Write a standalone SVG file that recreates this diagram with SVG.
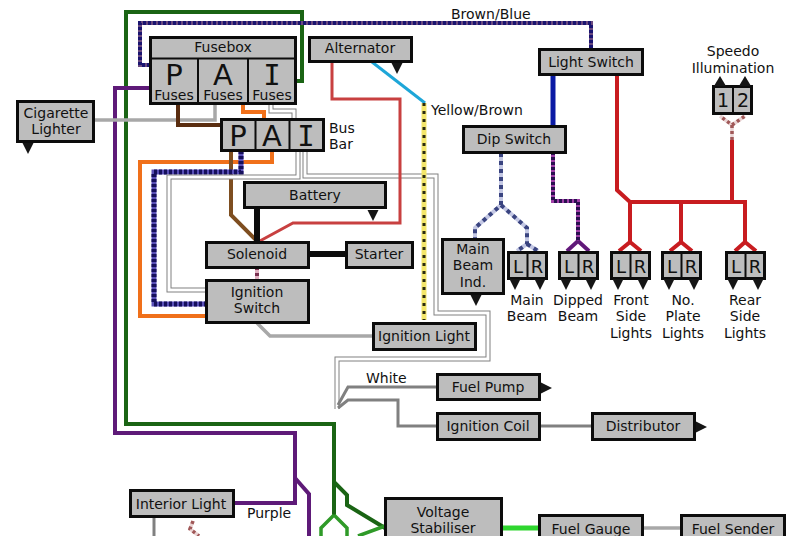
<svg xmlns="http://www.w3.org/2000/svg" width="800" height="536" viewBox="0 0 800 536">
<style>
text{font-family:"DejaVu Sans","Liberation Sans",sans-serif;font-size:14px;fill:#111;text-anchor:middle}
.l{text-anchor:start}
.big{font-size:29px}
.mid{font-size:21px}
.mono{font-family:"DejaVu Sans Mono","Liberation Mono",monospace}
.b{fill:#bdbdbd;stroke:#0c0c0c;stroke-width:3}
.d{stroke:#0c0c0c;stroke-width:2;fill:none}
.g{fill:#151515}
path{fill:none;stroke-linejoin:miter}
.green{stroke:#1a6414;stroke-width:4}
.lgreen{stroke:#2f9a28;stroke-width:3.5}
.purple{stroke:#5e1a78;stroke-width:4}
.bbase{stroke:#6a4a80;stroke-width:4}
.bdash{stroke:#1a1470;stroke-width:4;stroke-dasharray:3 2}
.nbase{stroke:#5a50b8;stroke-width:5}
.ndash{stroke:#16105c;stroke-width:5;stroke-dasharray:3 2}
.orange{stroke:#f0701a;stroke-width:4}
.rust{stroke:#c84040;stroke-width:3}
.red{stroke:#c81c20;stroke-width:4}
.brown{stroke:#5a2d10;stroke-width:4}
.lbrown{stroke:#7e4e20;stroke-width:4}
.grey{stroke:#a8a8a8;stroke-width:3.5}
.greyd{stroke:#808080;stroke-width:3}
.wo{stroke:#808080;stroke-width:5}
.wi{stroke:#fff;stroke-width:3}
.black{stroke:#0c0c0c;stroke-width:6}
.sky{stroke:#1ea6d8;stroke-width:3}
.ybase{stroke:#f4e66a;stroke-width:5}
.ydash{stroke:#2a2a10;stroke-width:3;stroke-dasharray:3 5}
.pbase{stroke:#a040a8;stroke-width:4}
.pdash{stroke:#2a1050;stroke-width:4;stroke-dasharray:3 2}
.lb{stroke:#c4c8e4;stroke-width:4}
.ldash{stroke:#3a4480;stroke-width:4;stroke-dasharray:4 4}
.pinkb{stroke:#e0b0c0;stroke-width:4}
.pinkd{stroke:#7a3050;stroke-width:4;stroke-dasharray:3 3}
.sb{stroke:#ead4d4;stroke-width:3.5}
.sd{stroke:#a05858;stroke-width:3.5;stroke-dasharray:3 3}
</style>
<defs>
<path id="gnd" d="M-5.500 0H5.500L0 11Z" style="fill:#151515;stroke:none"/>
<path id="gr" d="M0 -5.500V5.500L11 0Z" style="fill:#151515;stroke:none"/>
</defs>
<rect width="800" height="536" fill="#fff"/>
<g id="connectors">
<path class="green" d="M297 81H302V12H126V424H334V515"/>
<path class="green" d="M334 482L347 495V505L385 528"/>
<path class="lgreen" d="M334 515L321 528V536M334 515L347 528V536M358 536L385 526"/>
<path class="purple" d="M150 88H115V433H295V503H233"/>
<path class="purple" d="M295 478L309 494V536"/>
<path class="bbase" d="M150 65H140V23H591V49"/>
<path class="bdash" d="M150 65H140V23H591V49"/>
<path class="grey" d="M94 120H215V104"/>
<path class="brown" d="M178 104V125H221"/>
<path class="orange" d="M243 104V112H264V119"/>
<path class="orange" d="M272 151V162H140V316H206"/>
<path class="lbrown" d="M231 151V215L257 241"/>
<path class="nbase" d="M241 151V172H154V304H206"/>
<path class="ndash" d="M241 151V172H154V304H206"/>
<path class="wo" d="M271 105V111H294V119"/>
<path class="wi" d="M271 105V111H294V119"/>
<path class="wo" d="M298 151V177H169V290H206"/>
<path class="wi" d="M298 151V177H169V290H206"/>
<path class="wo" d="M305 151V176H436V313H488V359H337V409"/>
<path class="wi" d="M305 151V176H436V313H488V359H337V409"/>
<path class="rust" d="M332 62V99H400V223H293L258 242"/>
<path class="black" d="M257 208V242M309 254H346"/>
<path class="pinkb" d="M257 267V280"/>
<path class="pinkd" d="M257 267V280"/>
<path class="grey" d="M257 323L270 336H373"/>
<path class="sky" d="M372 62L425 103"/>
<path class="ybase" d="M424 103V320"/>
<path class="ydash" d="M424 103V320"/>
<path class="greyd" d="M437 387H348L338 405"/>
<path class="greyd" d="M437 426H398V400H348L338 408"/>
<path class="greyd" d="M540 426H592"/>
<path class="grey" d="M643 528H681"/>
<path d="M502 528H539" style="stroke:#2fd62f;stroke-width:5"/>
<path class="greyd" d="M154 517V536"/>
<path class="sb" d="M193 521L190 529L199 536"/>
<path class="sd" d="M193 521L190 529L199 536"/>
<path d="M553 75V126" style="stroke:#0a1aa4;stroke-width:5"/>
<path class="pbase" d="M553 152V201H578V241M578 241L567 251M578 241L589 251"/>
<path class="pdash" d="M553 152V201H578V241"/>
<path d="M578 241L567 251M578 241L589 251" style="stroke:#5e1a78;stroke-width:3.500"/>
<path class="red" d="M617 75V190L630 202H745V242L735 251M745 242L756 251"/>
<path class="red" d="M630 202V242L619 251M630 242L641 251M681 202V242L670 251M681 242L692 251M732 202V140"/>
<path class="sb" d="M732 140V125L720 116M732 125L745 116"/>
<path class="sd" d="M732 140V125L720 116M732 125L745 116"/>
<path class="lb" d="M501 153V205L475 228V239M501 205L527 228V244L517 251M527 244L538 251"/>
<path class="ldash" d="M501 153V205L475 228V239M501 205L527 228V244L517 251M527 244L538 251"/>
</g>
<g id="fusebox">
<rect class="b" x="150.500" y="37.500" width="145" height="66"/>
<path class="d" d="M150 58.500H296M198 58V104M248 58V104"/>
<text x="223" y="52">Fusebox</text>
<text class="big" x="174" y="85">P</text><text x="174" y="100">Fuses</text>
<text class="big" x="223" y="85">A</text><text x="223" y="100">Fuses</text>
<text class="big mono" x="272" y="85">I</text><text x="272" y="100">Fuses</text>
</g>
<g id="alternator"><rect class="b" x="309.500" y="37.500" width="102" height="24"/><text x="360" y="53">Alternator</text><use href="#gnd" x="397" y="63"/></g>
<g id="cigarette-lighter"><rect class="b" x="17.500" y="101.500" width="76" height="40"/><text x="56" y="118">Cigarette</text><text x="56" y="134">Lighter</text><use href="#gnd" x="28" y="143"/></g>
<g id="bus-bar">
<rect class="b" x="221.500" y="119.500" width="102" height="31"/>
<path class="d" d="M255.500 119V151M289.500 119V151"/>
<text class="big" x="238" y="146">P</text><text class="big" x="272" y="146">A</text><text class="big mono" x="306" y="146">I</text>
<text class="l" x="329" y="133">Bus</text><text class="l" x="329" y="149">Bar</text>
</g>
<g id="battery"><rect class="b" x="244.500" y="182.500" width="141" height="25"/><text x="315" y="200">Battery</text><use href="#gnd" x="373" y="210"/></g>
<g id="solenoid"><rect class="b" x="206.500" y="242.500" width="102" height="25"/><text x="257" y="259">Solenoid</text></g>
<g id="starter"><rect class="b" x="346.500" y="242.500" width="66" height="25"/><text x="379" y="259">Starter</text></g>
<g id="ignition-switch"><rect class="b" x="206.500" y="280.500" width="102" height="42"/><text x="257" y="297">Ignition</text><text x="257" y="313">Switch</text></g>
<g id="ignition-light"><rect class="b" x="373.500" y="323.500" width="102" height="26"/><text x="424" y="341">Ignition Light</text></g>
<g id="fuel-pump"><rect class="b" x="437.500" y="374.500" width="102" height="25"/><text x="488" y="392">Fuel Pump</text><use href="#gr" x="541" y="388"/></g>
<g id="ignition-coil"><rect class="b" x="437.500" y="413.500" width="102" height="26"/><text x="488" y="431">Ignition Coil</text></g>
<g id="distributor"><rect class="b" x="592.500" y="413.500" width="102" height="26"/><text x="643" y="431">Distributor</text><use href="#gr" x="696" y="427"/></g>
<g id="voltage-stabiliser"><rect class="b" x="385.500" y="498.500" width="116" height="44"/><text x="443" y="517">Voltage</text><text x="443" y="533">Stabiliser</text></g>
<g id="fuel-gauge"><rect class="b" x="539.500" y="515.500" width="103" height="27"/><text x="591" y="534">Fuel Gauge</text></g>
<g id="fuel-sender"><rect class="b" x="681.500" y="515.500" width="103" height="27"/><text x="733" y="534">Fuel Sender</text></g>
<g id="interior-light"><rect class="b" x="130.500" y="490.500" width="103" height="26"/><text x="181" y="509">Interior Light</text></g>
<g id="light-switch"><rect class="b" x="539.500" y="49.500" width="103" height="25"/><text x="591" y="67">Light Switch</text></g>
<g id="dip-switch"><rect class="b" x="463.500" y="126.500" width="102" height="26"/><text x="514" y="144">Dip Switch</text></g>
<g id="main-beam-ind"><rect class="b" x="442.500" y="239.500" width="61" height="54"/><text x="473" y="254">Main</text><text x="473" y="270">Beam</text><text x="473" y="287">Ind.</text><use href="#gnd" x="476" y="295"/></g>
<g id="main-beam"><rect class="b" x="508.500" y="252.500" width="38" height="26"/><path class="d" d="M527.500 252V279"/><text class="mid" x="518" y="273" style="font-size:18px">L</text><text x="537" y="273" style="font-size:18px">R</text><use href="#gnd" x="515" y="279"/><use href="#gnd" x="540" y="279"/><text x="527" y="305">Main</text><text x="527" y="321">Beam</text></g>
<g id="dipped-beam"><rect class="b" x="559.500" y="252.500" width="38" height="26"/><path class="d" d="M578.500 252V279"/><text x="569" y="273" style="font-size:18px">L</text><text x="588" y="273" style="font-size:18px">R</text><use href="#gnd" x="566" y="279"/><use href="#gnd" x="591" y="279"/><text x="578" y="305">Dipped</text><text x="578" y="321">Beam</text></g>
<g id="front-side-lights"><rect class="b" x="611.500" y="252.500" width="38" height="26"/><path class="d" d="M630.500 252V279"/><text x="621" y="273" style="font-size:18px">L</text><text x="640" y="273" style="font-size:18px">R</text><use href="#gnd" x="618" y="279"/><use href="#gnd" x="643" y="279"/><text x="631" y="305">Front</text><text x="631" y="321">Side</text><text x="631" y="338">Lights</text></g>
<g id="no-plate-lights"><rect class="b" x="662.500" y="252.500" width="38" height="26"/><path class="d" d="M681.500 252V279"/><text x="672" y="273" style="font-size:18px">L</text><text x="691" y="273" style="font-size:18px">R</text><use href="#gnd" x="669" y="279"/><use href="#gnd" x="694" y="279"/><text x="683" y="305">No.</text><text x="683" y="321">Plate</text><text x="683" y="338">Lights</text></g>
<g id="rear-side-lights"><rect class="b" x="726.500" y="252.500" width="38" height="26"/><path class="d" d="M745.500 252V279"/><text x="736" y="273" style="font-size:18px">L</text><text x="755" y="273" style="font-size:18px">R</text><use href="#gnd" x="733" y="279"/><use href="#gnd" x="758" y="279"/><text x="745" y="305">Rear</text><text x="745" y="321">Side</text><text x="745" y="338">Lights</text></g>
<g id="speedo-illumination"><rect class="b" x="713.500" y="86.500" width="38" height="27"/><path class="d" d="M733 86V114"/><text x="723" y="107" style="font-size:19px">1</text><text x="743" y="107" style="font-size:19px">2</text><path d="M720 76L726 86H714Z" style="fill:#151515;stroke:none"/><path d="M745 76L751 86H739Z" style="fill:#151515;stroke:none"/><text x="733" y="56">Speedo</text><text x="733" y="73">Illumination</text></g>
<g id="labels">
<text class="l" x="451" y="19">Brown/Blue</text>
<text class="l" x="431" y="115">Yellow/Brown</text>
<text class="l" x="366" y="383">White</text>
<text class="l" x="247" y="518">Purple</text>
</g>
</svg>
